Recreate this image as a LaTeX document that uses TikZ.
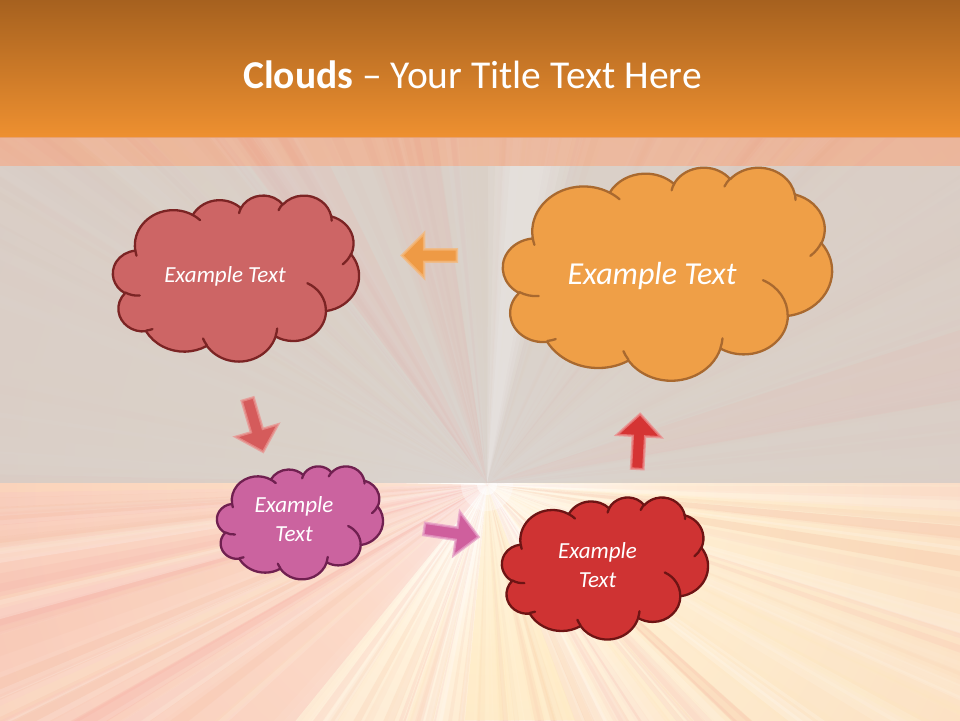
\documentclass[tikz,border=0pt]{standalone}
\usepackage{fontspec}
\setmainfont{Carlito}
\usetikzlibrary{shapes.arrows}

\definecolor{hdrtop}{HTML}{A6611F}
\definecolor{hdrbot}{HTML}{EE9030}
\definecolor{bandc}{HTML}{E6A88C}
\definecolor{bggray}{HTML}{D3CBC6}
\definecolor{burstA}{HTML}{FFF1DA}
\definecolor{burstB}{HTML}{F9D8C2}
\definecolor{burstC}{HTML}{F2B8AE}
\definecolor{raycol0}{HTML}{FFFFFF}
\definecolor{raycol1}{HTML}{F6A59E}
\definecolor{raycol2}{HTML}{FFE9B8}
\definecolor{raycol3}{HTML}{F3AE8C}
\definecolor{raycol4}{HTML}{FFF8EE}
% clouds
\definecolor{cRedF}{HTML}{CD6565}\definecolor{cRedD}{HTML}{7B2424}
\definecolor{cOraF}{HTML}{EF9F47}\definecolor{cOraD}{HTML}{A9692F}
\definecolor{cPinF}{HTML}{CB639F}\definecolor{cPinD}{HTML}{702050}
\definecolor{cCrmF}{HTML}{CF3333}\definecolor{cCrmD}{HTML}{6E1414}
% arrows
\definecolor{aOraF}{HTML}{EE9A45}\definecolor{aOraD}{HTML}{F5B87A}
\definecolor{aRedF}{HTML}{D55B5B}\definecolor{aRedD}{HTML}{E9938F}
\definecolor{aPinF}{HTML}{CF5F9D}\definecolor{aPinD}{HTML}{E59DC5}
\definecolor{aCrmF}{HTML}{D53434}\definecolor{aCrmD}{HTML}{EC8888}

\pgfdeclareradialshading{burst}{\pgfpoint{0bp}{0bp}}{color(0bp)=(white); color(5bp)=(burstA); color(18bp)=(burstB); color(36bp)=(burstC); color(50bp)=(burstC)}

% OOXML visual angle -> parametric angle
\newcommand\ooconv[5]{%
  \pgfmathsetmacro\ooTs{atan2((#2)*sin(#4),(#3)*cos(#4))}%
  \pgfmathsetmacro\ooTe{atan2((#2)*sin((#4)+(#5)),(#3)*cos((#4)+(#5)))}%
  \pgfmathsetmacro\ooTd{\ooTe-(\ooTs)}%
  \pgfmathsetmacro\ooTd{\ooTd<0 ? \ooTd+360 : \ooTd}%
  \expandafter\global\expandafter\let\csname ooS#1\endcsname\ooTs
  \expandafter\global\expandafter\let\csname ooD#1\endcsname\ooTd}
\ooconv{A}{67.53}{91.90}{-190.48748}{123.78053}
\ooconv{B}{53.33}{72.67}{-144.10238}{89.94523}
\ooconv{C}{43.65}{59.45}{-145.80792}{99.72302}
\ooconv{D}{48.57}{65.95}{-130.98607}{117.24173}
\ooconv{E}{53.33}{72.73}{-78.70888}{109.02692}
\ooconv{F}{67.75}{92.20}{-46.26725}{130.269}
\ooconv{G}{57.85}{78.67}{0.62502}{114.03333}
\ooconv{H}{67.52}{92.15}{22.4516}{115.17255}
\ooconv{I}{77.20}{105.43}{66.24263}{75.71102}
\ooconv{J}{43.60}{59.18}{-274.94208}{146.73557}
\ooconv{K}{43.45}{59.45}{-246.8285}{152.51885}
\ooconv{a}{43.45}{59.45}{86.742}{26.4295}
\ooconv{b}{43.60}{59.18}{73.61047}{11.44747}
\ooconv{c}{67.52}{92.15}{137.62415}{14.0811}
\ooconv{d}{67.52}{92.15}{6.45327}{15.99835}
\ooconv{e}{57.85}{78.67}{-70.29235}{70.91737}
\ooconv{f}{53.33}{72.73}{30.31803}{27.7515}
\ooconv{g}{48.57}{65.95}{-13.74433}{14.8589}
\ooconv{h}{48.57}{65.95}{-149.18145}{18.19537}
\ooconv{i}{43.65}{59.45}{-163.49427}{17.68635}
\ooconv{j}{67.53}{91.90}{-66.70695}{12.31935}
\ooconv{k}{67.53}{91.90}{157.65435}{11.85817}

% #1 x0, #2 y0, #3 width, #4 height, #5 fill, #6 stroke
\newcommand\ppcloud[6]{%
  \pgfmathsetmacro\ccx{#3/432}%
  \pgfmathsetmacro\ccy{#4/432}%
  \begin{scope}[shift={(#1,#2)}, x=\ccx pt, y=-\ccy pt]
    \filldraw[fill=#5, draw=#6, line width=2.3pt, line join=round]
      (39.00,143.70)
      arc[x radius=67.53,y radius=91.90,start angle=\ooSA,delta angle=\ooDA]
      arc[x radius=53.33,y radius=72.67,start angle=\ooSB,delta angle=\ooDB]
      arc[x radius=43.65,y radius=59.45,start angle=\ooSC,delta angle=\ooDC]
      arc[x radius=48.57,y radius=65.95,start angle=\ooSD,delta angle=\ooDD]
      arc[x radius=53.33,y radius=72.73,start angle=\ooSE,delta angle=\ooDE]
      arc[x radius=67.75,y radius=92.20,start angle=\ooSF,delta angle=\ooDF]
      arc[x radius=57.85,y radius=78.67,start angle=\ooSG,delta angle=\ooDG]
      arc[x radius=67.52,y radius=92.15,start angle=\ooSH,delta angle=\ooDH]
      arc[x radius=77.20,y radius=105.43,start angle=\ooSI,delta angle=\ooDI]
      arc[x radius=43.60,y radius=59.18,start angle=\ooSJ,delta angle=\ooDJ]
      arc[x radius=43.45,y radius=59.45,start angle=\ooSK,delta angle=\ooDK]
      -- cycle;
    \draw[draw=#6, line width=2.3pt, line cap=round]
      (46.93,261.77) arc[x radius=43.45,y radius=59.45,start angle=\ooSa,delta angle=\ooDa]
      (69.28,348.99) arc[x radius=43.60,y radius=59.18,start angle=\ooSb,delta angle=\ooDb]
      (164.78,390.90) arc[x radius=67.52,y radius=92.15,start angle=\ooSc,delta angle=\ooDc]
      (288.27,347.51) arc[x radius=67.52,y radius=92.15,start angle=\ooSd,delta angle=\ooDd]
      (341.29,229.54) arc[x radius=57.85,y radius=78.67,start angle=\ooSe,delta angle=\ooDe]
      (417.98,153.54) arc[x radius=53.33,y radius=72.73,start angle=\ooSf,delta angle=\ooDf]
      (383.24,54.26) arc[x radius=48.57,y radius=65.95,start angle=\ooSg,delta angle=\ooDg]
      (290.78,39.52) arc[x radius=48.57,y radius=65.95,start angle=\ooSh,delta angle=\ooDh]
      (221.41,47.20) arc[x radius=43.65,y radius=59.45,start angle=\ooSi,delta angle=\ooDi]
      (140.00,51.92) arc[x radius=67.53,y radius=91.90,start angle=\ooSj,delta angle=\ooDj]
      (41.27,157.89) arc[x radius=67.53,y radius=91.90,start angle=\ooSk,delta angle=\ooDk];
  \end{scope}}

\tikzset{
  titletxt/.style={text=white, inner sep=0pt, font=\fontsize{39.5}{47}\selectfont},
  cloudtxt/.style={text=white, inner sep=0pt, align=center, font=\fontsize{23}{28.5}\selectfont\itshape},
  bigcloudtxt/.style={text=white, inner sep=0pt, font=\fontsize{32}{38}\selectfont\itshape},
  blockarrow/.style={single arrow, single arrow head extend=16pt, single arrow tip angle=90,
    minimum height=55pt, minimum width=42pt, inner xsep=0pt, inner ysep=5pt,
    line width=2.4pt, draw opacity=0.75},
}

\begin{document}
\begin{tikzpicture}[x=1pt,y=-1pt]
\useasboundingbox (0,0) rectangle (960,720);
\clip (0,0) rectangle (960,720);

% ---------- sunburst background ----------
\shade[shading=burst] (487,485) circle[radius=900];
\fill[raycol1, opacity=0.30] (487,485) -- (-200,470) -- (-200,900) -- (150,900) -- cycle;
\fill[raycol2, opacity=0.25] (487,485) -- (1100,520) -- (1100,900) -- (800,900) -- cycle;
\pgfmathsetseed{4242}
\foreach \i in {1,...,320}{
  \pgfmathsetmacro\ra{rnd*360}
  \pgfmathsetmacro\rw{0.2+1.0*rnd}
  \pgfmathsetmacro\ro{0.05+0.16*rnd}
  \pgfmathtruncatemacro\rc{5*rnd}
  \fill[fill=raycol\rc, opacity=\ro] (487,485) -- +(\ra-\rw:1100) -- +(\ra+\rw:1100) -- cycle;
}
\foreach \i in {1,...,60}{
  \pgfmathsetmacro\ra{-140+rnd*100}
  \pgfmathsetmacro\rw{0.2+0.9*rnd}
  \pgfmathsetmacro\ro{0.10+0.25*rnd}
  \pgfmathtruncatemacro\rc{3*rnd}
  \fill[fill=raycol\rc, opacity=\ro] (487,485) -- +(\ra-\rw:1100) -- +(\ra+\rw:1100) -- cycle;
}
\foreach \l/\r in {490/575, 496/565, 502/556, 508/548}{
  \fill[white, opacity=0.16] (487,485) -- (\l,166) -- (\r,166) -- cycle;
}
\fill[raycol2, opacity=0.45] (487,485) -- (465,720) -- (575,720) -- cycle;
\fill[white, opacity=0.35] (487,485) circle[radius=26];
\fill[white, opacity=0.6] (487,485) circle[radius=10];

% translucent gray panel
\fill[bggray, opacity=0.82] (0,166) rectangle (960,483);
\foreach \l/\r in {488/570, 495/560, 503/551, 510/544}{
  \fill[white, opacity=0.09] (487,483) -- (\l,166) -- (\r,166) -- cycle;
}
\fill[raycol1, opacity=0.12] (487,483) -- (250,166) -- (330,166) -- cycle;
\fill[raycol1, opacity=0.10] (487,483) -- (380,166) -- (440,166) -- cycle;
\fill[raycol1, opacity=0.10] (487,483) -- (960,330) -- (960,400) -- cycle;

% ---------- header ----------
\shade[top color=hdrtop, bottom color=hdrbot] (0,0) rectangle (960,137);
\fill[bandc, opacity=0.72] (0,137) rectangle (960,166);
\node[titletxt, anchor=base] (title) at (472.5,88) {\textbf{Clouds} – Your Title Text Here};

% ---------- clouds ----------
\ppcloud{113}{195}{246}{166}{cRedF}{cRedD}
\node[cloudtxt, anchor=base] (c1) at (225,282) {Example Text};

\ppcloud{503}{167}{329}{213}{cOraF}{cOraD}
\node[bigcloudtxt, anchor=base] (c4) at (652,284) {Example Text};

\ppcloud{217}{466}{166}{113}{cPinF}{cPinD}
\node[cloudtxt] (c2) at (294,519) {Example\\Text};

\ppcloud{502}{497}{206}{142}{cCrmF}{cCrmD}
\node[cloudtxt] (c3) at (597.5,565) {Example\\Text};

% ---------- block arrows ----------
\node[blockarrow, fill=aOraF, draw=aOraD, rotate=180] (a1) at (432.5,255.5) {};
\node[blockarrow, fill=aRedF, draw=aRedD, rotate=-73.6] (a2) at (254.5,422.5) {};
\node[blockarrow, fill=aPinF, draw=aPinD, rotate=-8.4] (a3) at (448.3,532.5) {};
\node[blockarrow, fill=aCrmF, draw=aCrmD, rotate=86.9] (a4) at (638.5,444.5) {};
\end{tikzpicture}
\end{document}
